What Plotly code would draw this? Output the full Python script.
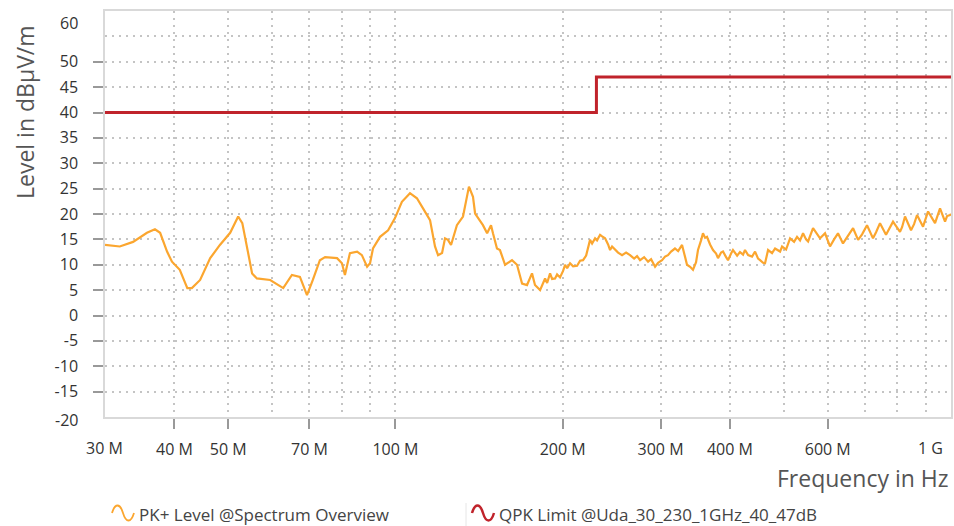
import math
import plotly.graph_objects as go

# ---------------- data ----------------
freq_mhz = [
    30.0, 31.9, 33.7, 35.7, 36.9, 37.7, 38.8, 39.6, 40.9, 42.2, 43.0, 44.5, 46.4, 48.3, 50.4,
    52.1, 53.0, 54.1, 55.2, 56.3, 59.5, 62.8, 65.1, 67.3, 69.3, 71.0, 73.1, 74.7, 78.5, 80.1,
    81.1, 82.8, 85.3, 87.0, 88.9, 90.0, 91.1, 93.8, 97.0, 99.8, 102.7, 106.2, 109.3, 112.1,
    115.4, 117.8, 119.3, 121.3, 122.8, 124.3, 125.9, 129.0, 132.3, 135.6, 137.9, 139.1, 143.7,
    146.2, 148.6, 149.8, 152.3, 154.2, 157.5, 162.1, 165.5, 169.0, 172.5, 176.1, 178.3,
    182.1, 184.4, 185.9, 187.5, 189.8, 191.4, 193.8, 195.4, 197.8, 200.3, 202.0, 203.7, 206.2,
    208.8, 212.3, 214.9, 217.6, 220.4, 224.0, 225.9, 228.7, 230.6, 233.5, 235.5, 238.4, 241.4,
    243.4, 245.4, 248.5, 251.6, 255.8, 260.1, 264.4, 268.9, 272.2, 275.6, 280.3, 284.9, 288.5,
    293.3, 297.0, 301.9, 305.7, 309.4, 313.4, 318.5, 322.7, 328.0, 332.2, 334.8, 339.1, 343.2,
    347.6, 350.4, 354.9, 357.7, 360.9, 363.7, 368.4, 372.9, 377.7, 380.7, 385.6, 388.7, 393.7,
    396.8, 401.9, 405.1, 412.1, 417.0, 422.4, 425.8, 431.3, 438.4, 443.9, 449.5, 453.2, 458.9,
    462.7, 468.5, 476.3, 482.3, 492.4, 496.5, 504.8, 513.2, 521.8, 528.3, 534.9, 541.6, 548.4,
    553.0, 564.5, 574.0, 581.1, 593.3, 605.6, 615.9, 626.0, 639.1, 650.0, 666.4, 680.4, 691.7,
    706.0, 723.8, 733.0, 745.1, 763.9, 773.6, 786.4, 809.5, 816.4, 826.5, 847.3, 858.1, 868.7,
    890.6, 898.1, 909.3, 936.0, 943.8, 955.6, 975.6, 983.8, 996.0, 1000.0,
]
level_dbuv = [
    13.9, 13.6, 14.5, 16.3, 17.0, 16.3, 12.6, 10.6, 9.0, 5.4, 5.4, 7.0, 11.3, 13.9, 16.3,
    19.5, 18.2, 12.9, 8.3, 7.3, 7.0, 5.4, 8.0, 7.6, 4.0, 7.0, 10.9, 11.5, 11.3, 10.3,
    8.0, 12.3, 12.6, 11.9, 9.6, 10.3, 13.2, 15.5, 16.8, 19.2, 22.4, 24.1, 23.1, 21.1,
    18.8, 13.6, 11.9, 12.3, 15.2, 14.9, 13.9, 17.8, 19.5, 25.4, 23.4, 20.1, 17.8,
    16.2, 17.8, 16.2, 13.2, 12.9, 10.0, 10.9, 10.0, 6.3, 6.0, 8.3, 6.0,
    5.0, 6.5, 7.3, 6.4, 8.3, 7.2, 7.3, 8.1, 7.5, 8.8, 10.0, 9.3, 10.3,
    9.7, 9.8, 10.8, 10.9, 11.8, 14.9, 14.2, 15.2, 14.8, 15.9, 15.6, 15.2, 14.0,
    12.9, 13.6, 13.0, 12.4, 11.9, 12.4, 11.9, 11.2, 11.7, 10.9, 11.5, 10.6, 11.1,
    9.6, 10.4, 10.9, 11.6, 11.9, 12.6, 13.2, 12.7, 13.9, 11.5, 10.0, 9.6, 9.0,
    10.5, 12.9, 14.8, 16.2, 15.3, 15.5, 14.0, 12.9, 12.2, 11.3, 12.4, 12.6, 11.5,
    10.9, 12.2, 12.9, 11.8, 12.5, 12.0, 12.9, 11.9, 11.6, 12.6, 11.2, 10.9, 10.4,
    10.3, 12.9, 12.3, 13.2, 12.6, 13.6, 13.0, 15.2, 14.5, 15.5, 14.8, 16.2, 15.0,
    14.6, 17.2, 16.0, 15.2, 16.2, 13.6, 15.0, 16.2, 14.2, 15.5, 17.2, 14.9, 16.0,
    17.8, 15.2, 16.4, 18.2, 15.9, 17.0, 18.5, 16.5, 17.4, 19.5, 16.8, 18.0, 19.8,
    17.5, 18.6, 20.5, 18.2, 19.4, 21.1, 18.5, 19.6, 19.8, 20.0,
]
limit_freq_mhz = [30, 230, 1000]
limit_level = [40, 47, 47]

x_tick_mhz = [40, 50, 70, 100, 200, 300, 400, 600]
x_tick_text = ["40 M", "50 M", "70 M", "100 M", "200 M", "300 M", "400 M", "600 M"]
x_minor_mhz = [60, 80, 90, 500, 700, 800, 900]
y_tick_vals = [-15, -10, -5, 0, 5, 10, 15, 20, 25, 30, 35, 40, 45, 50]
y_minor_vals = [55]

ORANGE = "#FBA62F"
RED = "#C0232B"
FONT = "Open Sans"
GRID = "#c4c4c4"
DOTS = "2px,5px"

# ---------------- figure ----------------
W, H = 954, 526
L, R, T, B = 105, 3, 11, 109
PW, PH = W - L - R, H - T - B


def px(xp, yp):
    return (xp - L) / PW, (H - B - yp) / PH


fig = go.Figure()
fig.add_trace(go.Scatter(
    x=[f * 1e6 for f in freq_mhz], y=level_dbuv, mode="lines",
    line=dict(color=ORANGE, width=2.2), name="PK+ Level @Spectrum Overview",
    showlegend=False,
))
fig.add_trace(go.Scatter(
    x=[f * 1e6 for f in limit_freq_mhz], y=limit_level, mode="lines",
    line=dict(color=RED, width=3, shape="hv"), name="QPK Limit @Uda_30_230_1GHz_40_47dB",
    showlegend=False,
))

grid = dict(showgrid=True, gridcolor=GRID, griddash=DOTS, gridwidth=1.5)

fig.update_xaxes(
    type="log", range=[math.log10(30e6), math.log10(1e9)],
    tickmode="array", tickvals=[v * 1e6 for v in x_tick_mhz], ticktext=x_tick_text,
    ticks="outside", ticklen=10, tickcolor="#999", tickwidth=1.5,
    tickfont=dict(family=FONT, size=16, color="#333"), ticklabelstandoff=7,
    showline=True, linecolor="#d9d9d9", linewidth=1.5, mirror=True, zeroline=False,
    minor=dict(tickmode="array", tickvals=[v * 1e6 for v in x_minor_mhz], ticks="",
               showgrid=True, gridcolor=GRID, griddash=DOTS, gridwidth=1.5),
    **grid,
)
fig.update_yaxes(
    range=[-20, 60], tickmode="array", tickvals=y_tick_vals,
    ticktext=[str(v) for v in y_tick_vals],
    ticks="outside", ticklen=10, tickcolor="#999", tickwidth=1.5,
    tickfont=dict(family=FONT, size=16, color="#333"), ticklabelstandoff=12,
    showline=True, linecolor="#d9d9d9", linewidth=1.5, mirror=True, zeroline=False,
    minor=dict(tickmode="array", tickvals=y_minor_vals, ticks="",
               showgrid=True, gridcolor=GRID, griddash=DOTS, gridwidth=1.5),
    **grid,
)

ann = []
# edge tick labels
for txt, xp, yp, xa in [("60", 80, 23, "right"), ("-20", 80, 420, "right"),
                        ("30 M", 104, 448, "center"), ("1 G", 945, 448, "right")]:
    ax_, ay_ = px(xp, yp)
    ann.append(dict(text=txt, x=ax_, y=ay_, xref="paper", yref="paper", showarrow=False,
                    xanchor=xa, yanchor="middle", font=dict(family=FONT, size=16, color="#333")))
# axis titles
ax_, ay_ = px(951, 478)
ann.append(dict(text="Frequency in Hz", x=ax_, y=ay_, xref="paper", yref="paper", showarrow=False,
                xanchor="right", yanchor="middle", font=dict(family=FONT, size=23, color="#555")))
ax_, ay_ = px(25, 112)
ann.append(dict(text="Level in dBµV/m", x=ax_, y=ay_, xref="paper", yref="paper", showarrow=False,
                textangle=-90, xanchor="center", yanchor="middle",
                font=dict(family=FONT, size=23, color="#555")))
# legend texts
for txt, xp in [("PK+ Level @Spectrum Overview", 137), ("QPK Limit @Uda_30_230_1GHz_40_47dB", 497)]:
    ax_, ay_ = px(xp, 514)
    ann.append(dict(text=txt, x=ax_, y=ay_, xref="paper", yref="paper", showarrow=False,
                    xanchor="left", yanchor="middle", font=dict(family=FONT, size=17, color="#444")))


def wave(x0, color, width):
    pts = [(x0, 513), (x0 + 3, 503), (x0 + 8, 503), (x0 + 11, 513),
           (x0 + 14, 523), (x0 + 19, 523), (x0 + 22, 513)]
    p = [px(a, b) for a, b in pts]
    path = "M {},{} C {},{} {},{} {},{} C {},{} {},{} {},{}".format(
        *p[0], *p[1], *p[2], *p[3], *p[4], *p[5], *p[6])
    return dict(type="path", path=path, xref="paper", yref="paper",
                line=dict(color=color, width=width))


shapes = [wave(112, ORANGE, 1.8), wave(472, RED, 2.5)]
sx, sy0 = px(466, 503)
_, sy1 = px(466, 526)
shapes.append(dict(type="line", xref="paper", yref="paper", x0=sx, x1=sx, y0=sy0, y1=sy1,
                   line=dict(color="#e6e6e6", width=1)))

fig.update_layout(
    width=W, height=H, margin=dict(l=L, r=R, t=T, b=B, autoexpand=False),
    paper_bgcolor="white", plot_bgcolor="white", showlegend=False,
    annotations=ann, shapes=shapes, font=dict(family=FONT),
)

fig.write_html(
    "out.html",
    config={"displayModeBar": False},
    post_script="document.body.style.margin='0';document.body.style.padding='0';"
                "document.body.style.overflow='hidden';",
)
